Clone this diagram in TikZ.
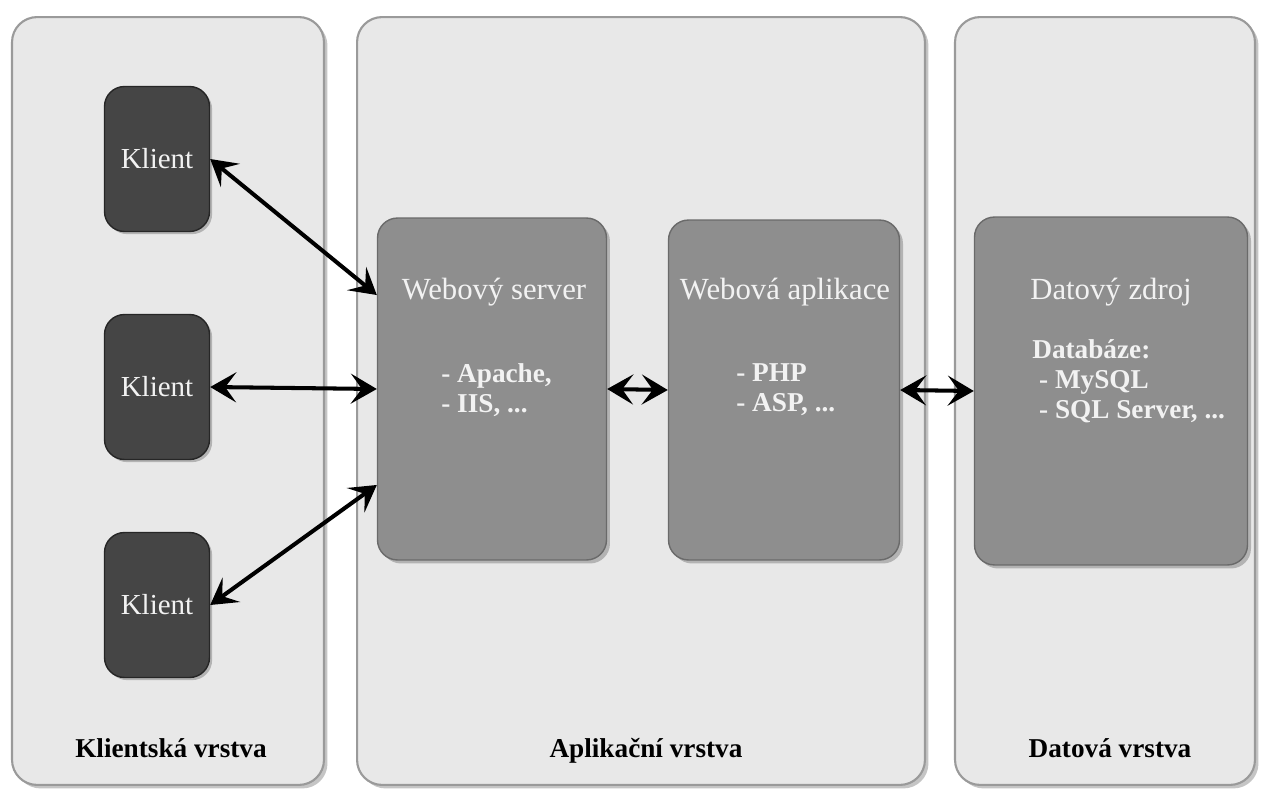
\documentclass[tikz,border=0pt]{standalone}
\usepackage{fontspec}
\setmainfont{Liberation Serif}
\usetikzlibrary{positioning}
\usetikzlibrary{shadows}
\usetikzlibrary{arrows.meta}
\usepackage{xcolor}

\definecolor{panelfill}{HTML}{E8E8E8}
\definecolor{panelline}{HTML}{9A9A9A}
\definecolor{klientfill}{HTML}{454545}
\definecolor{boxfill}{HTML}{8E8E8E}
\definecolor{boxline}{HTML}{6A6A6A}
\definecolor{boxtext}{HTML}{F2F2F2}

\begin{document}
\begin{tikzpicture}[
    % 1 unit = 1 pixel of the original picture
    x=0.02cm, y=-0.02cm,
    panel/.style={draw=panelline, line width=1.2pt, fill=panelfill, rounded corners=0.5cm,
        drop shadow={shadow xshift=2pt, shadow yshift=-2pt, opacity=0.45}},
    klient/.style={draw=black!85, line width=0.8pt, fill=klientfill, rounded corners=0.4cm,
        minimum width=2.1cm, minimum height=2.9cm, text=boxtext,
        font=\fontsize{16.5}{19}\selectfont,
        drop shadow={shadow xshift=1.5pt, shadow yshift=-1.5pt, opacity=0.5}},
    tier/.style={draw=boxline, line width=0.8pt, fill=boxfill, rounded corners=0.4cm,
        drop shadow={shadow xshift=2pt, shadow yshift=-2pt, opacity=0.5}},
    title/.style={text=boxtext, font=\fontsize{17.5}{20}\selectfont},
    items/.style={text=boxtext, align=left, anchor=west, inner sep=0pt,
        font=\bfseries\fontsize{15.5}{17}\selectfont},
    layer/.style={font=\bfseries\fontsize{15.5}{18}\selectfont},
    link/.style={{Stealth[length=0.52cm, width=0.6cm, inset=0.22cm]}-{Stealth[length=0.52cm, width=0.6cm, inset=0.22cm]},
        line width=2.3pt}
]
    % Background
    \fill[white] (0,0) rectangle (1261,791);
    \useasboundingbox (0,0) rectangle (1261,791);

    % Layers
    \node[panel, minimum width=6.24cm, minimum height=15.36cm] (clientpanel) at (168,401) {};
    \node[panel, minimum width=11.36cm, minimum height=15.36cm] (apppanel) at (641,401) {};
    \node[panel, minimum width=6.0cm, minimum height=15.36cm] (datapanel) at (1105,401) {};

    \node[layer] (clientlayer) at (171,748) {Klientská vrstva};
    \node[layer] (applayer) at (646,751) {Aplikační vrstva};
    \node[layer] (datalayer) at (1110,748) {Datová vrstva};

    % Clients
    \foreach \i/\y in {1/159, 2/387, 3/605} {
        \node[klient] (k\i) at (157,\y) {Klient};
    }

    % Server, application and data source
    \node[tier, minimum width=4.58cm, minimum height=6.84cm] (server) at (492,389) {};
    \node[tier, minimum width=4.62cm, minimum height=6.8cm] (app) at (784,390) {};
    \node[tier, minimum width=5.46cm, minimum height=6.96cm] (data) at (1111,391) {};

    \node[title] (servertitle) at (494,292) {Webový server};
    \node[title] (apptitle) at (785,292) {Webová aplikace};
    \node[title] (datatitle) at (1111,292) {Datový zdroj};

    \node[items] (serveritems) at (441,390) {- Apache,\\- IIS, ...};
    \node[items] (appitems) at (736,390) {- PHP\\- ASP, ...};
    \node[items] (dataitems) at (1032,381) {Databáze:\\\hspace{0.25em}- MySQL\\\hspace{0.25em}- SQL Server, ...};

    % Connections
    \draw[link] (k1.east) -- ([yshift=1.88cm]server.west);
    \draw[link] (k2.east) -- (server.west);
    \draw[link] (k3.east) -- ([yshift=-1.92cm]server.west);
    \draw[link] (server.east) -- (app.west);
    \draw[link] (app.east) -- (data.west);
\end{tikzpicture}
\end{document}
